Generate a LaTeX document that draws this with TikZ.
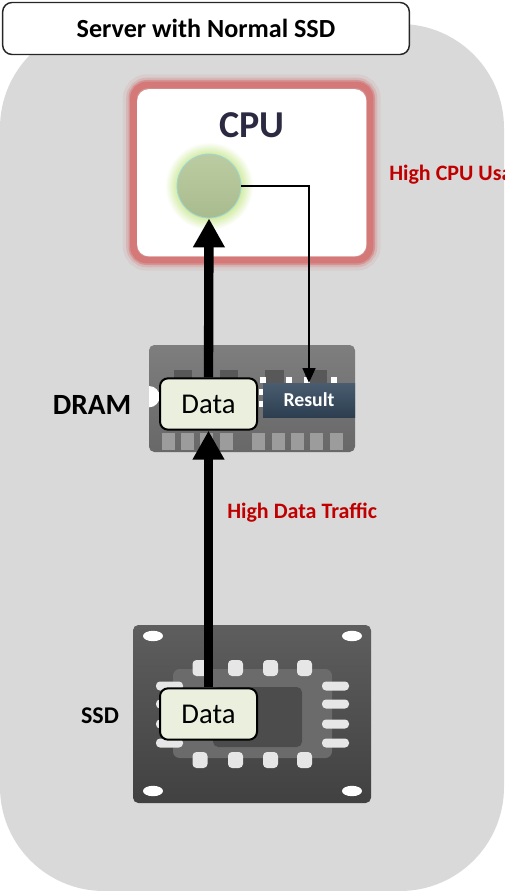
\documentclass[tikz,border=0pt]{standalone}
\usepackage{fontspec}
\setmainfont{Carlito}
\usetikzlibrary{arrows.meta}

\definecolor{panel}{HTML}{D9D9D9}
\definecolor{titleedge}{HTML}{262626}
\definecolor{cpured}{HTML}{D47878}
\definecolor{cputext}{HTML}{2B2A42}
\definecolor{glowgreen}{HTML}{CBE894}
\definecolor{coretop}{HTML}{BCCCA2}
\definecolor{corebottom}{HTML}{A9BC8E}
\definecolor{coreedge}{HTML}{9ED8D6}
\definecolor{datafill}{HTML}{EAF0DD}
\definecolor{labelred}{HTML}{C00000}
\definecolor{resulttop}{HTML}{4A5D70}
\definecolor{resultbottom}{HTML}{2C3E50}
\definecolor{dramtop}{HTML}{7E7E7E}
\definecolor{drambottom}{HTML}{686868}
\definecolor{dramdark}{HTML}{585858}
\definecolor{dramlight}{HTML}{9C9C9C}
\definecolor{ssdtop}{HTML}{5E5E5E}
\definecolor{ssdbottom}{HTML}{414141}
\definecolor{ssdinner}{HTML}{6B6B6B}
\definecolor{ssdcore}{HTML}{4C4C4C}
\definecolor{legwhite}{HTML}{E6E6E6}

% soft halo around the CPU core
\pgfdeclareradialshading{coreglow}{\pgfpoint{0bp}{0bp}}{%
  color(0bp)=(glowgreen); color(17bp)=(glowgreen);
  color(25bp)=(white); color(50bp)=(white)}

\tikzset{
  titlebox/.style={draw=titleedge, fill=white, line width=1.1pt,
    rounded corners=7pt, minimum width=305pt, minimum height=39pt,
    inner sep=0pt, font=\bfseries\fontsize{19.6}{23}\selectfont},
  cpubox/.style={fill=white, rounded corners=9pt, minimum width=172pt,
    minimum height=125.5pt, inner sep=0pt},
  core/.style={circle, minimum size=48pt, inner sep=0pt, draw=coreedge,
    line width=0.6pt, top color=coretop, bottom color=corebottom},
  databox/.style={draw=black, fill=datafill, line width=1.5pt,
    rounded corners=6pt, minimum width=72.75pt, minimum height=38.5pt,
    inner sep=0pt, font=\fontsize{21.5}{24}\selectfont},
  resultbox/.style={top color=resulttop, bottom color=resultbottom,
    minimum width=69pt, minimum height=25.5pt, inner sep=0pt,
    text=white, font=\bfseries\fontsize{14.8}{17}\selectfont},
  unitlabel/.style={inner sep=0pt, font=\bfseries\fontsize{22}{26}\selectfont},
  redlabel/.style={inner sep=0pt, text=labelred,
    font=\bfseries\fontsize{16.5}{19}\selectfont},
  leg/.style={fill=legwhite, rounded corners=3pt},
  bigarrow/.style={line width=7pt, -{Triangle[length=21.75pt,width=22.5pt]}},
  thinarrow/.style={line width=1.1pt, -{Triangle[length=11pt,width=9.75pt]}},
}

\begin{document}
\begin{tikzpicture}[x=0.75pt,y=-0.75pt]
\useasboundingbox (0,0) rectangle (504,891);
\clip (0,0) rectangle (504,891);

% grey server panel
\fill[panel, rounded corners=78pt] (0,24) rectangle (504,891);

% title
\node[titlebox] (title) at (206,28.5) {Server with Normal SSD};

% CPU package with red glowing rim
\foreach \w/\o in {16/0.12, 11/0.25, 7.5/0.55, 5/1}
  \draw[cpured, line width=\w pt, opacity=\o, rounded corners=10pt]
    (133.5,85) rectangle (370,260);
\node[cpubox] (cpu) at (251.75,172.75) {};
\node[font=\bfseries\fontsize{28.5}{32}\selectfont, text=cputext, inner sep=0pt]
  (cputitle) at (252,125) {CPU};
\shade[shading=coreglow] (209,186) circle [radius=33pt];
\node[core] (core) at (209,186) {};
\node[redlabel, anchor=west] (usage) at (389,175) {High CPU Usage};

% DRAM module
\shade[top color=dramtop, bottom color=drambottom, rounded corners=4pt]
  (149,345) rectangle (355,452);
\foreach \a/\b in {174/192, 220/238, 265/284, 305/327}
  \fill[dramdark] (\a,370) rectangle (\b,383);
\foreach \a in {162,181,200,220,252,272,291,310,330}
  \fill[dramlight] (\a,433) rectangle ++(13,17);
\foreach \a/\b in {260/377, 286/377, 304/377, 331/377, 259/389, 259/401}
  \fill[white] (\a,\b) rectangle ++(6,6);
\fill[white] (149,386) arc[start angle=90, end angle=-90, radius=8pt] -- cycle;
\node[resultbox] (result) at (309,400) {Result};
\node[databox] (dramdata) at (208.5,404) {Data};
\node[unitlabel] (dramlabel) at (92,405) {DRAM};

% SSD package
\shade[top color=ssdtop, bottom color=ssdbottom, rounded corners=4pt]
  (133,625) rectangle (371,803);
\foreach \p in {(153,636), (352,636), (153,791), (352,791)}
  \fill[white] \p ellipse [x radius=7.5pt, y radius=3.9pt];
\fill[ssdinner, rounded corners=5pt] (173,669) rectangle (332,758);
\fill[ssdcore, rounded corners=4pt] (213,687) rectangle (302,747);
\foreach \c in {200,235.5,270.5,304.5} {
  \fill[leg] (\c-7.5,660) rectangle (\c+7.5,676);
  \fill[leg] (\c-7.5,752) rectangle (\c+7.5,768);
}
\foreach \r in {686,704,724,743} {
  \fill[leg] (156,\r-4.5) rectangle (183,\r+4.5);
  \fill[leg] (322,\r-4.5) rectangle (349,\r+4.5);
}
\node[databox] (ssddata) at (208.5,714) {Data};
\node[unitlabel, font=\bfseries\fontsize{18}{22}\selectfont] (ssdlabel) at (100,716) {SSD};

% data movement
\draw[bigarrow] (ssddata.north) -- (dramdata.south);
\draw[bigarrow] (dramdata.north) -- (core.south);
\draw[thinarrow] (core.east) -| (result.north);
\node[redlabel, anchor=west] (traffic) at (227,513) {High Data Traffic};
\end{tikzpicture}
\end{document}
